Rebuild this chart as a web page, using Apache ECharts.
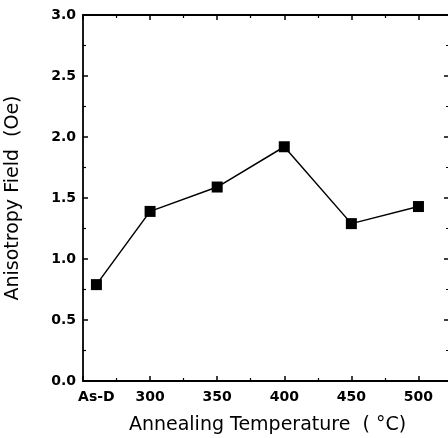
<!DOCTYPE html>
<html>
<head>
<meta charset="utf-8">
<script src="https://cdn.jsdelivr.net/npm/echarts@6/dist/echarts.min.js"></script>
<style>
  html, body { margin: 0; padding: 0; background: #fff; }
  #chart { width: 448px; height: 438px; }
</style>
</head>
<body>
<div id="chart"></div>
<script>
// data
var tempValues = [260, 300, 350, 400, 450, 500];
var tempLabels = ['As-D', '300', '350', '400', '450', '500'];
var anisotropy = [0.79, 1.39, 1.59, 1.92, 1.29, 1.43];

var chart = echarts.init(document.getElementById('chart'));

var points = tempValues.map(function (t, i) { return [t, anisotropy[i]]; });

var axisLine = { show: true, onZero: false, lineStyle: { color: '#000', width: 1.8 } };
var tick = { show: true, inside: true, length: 5, lineStyle: { color: '#000', width: 1.5 } };
var minor = { show: true, splitNumber: 2, length: 3, lineStyle: { color: '#000', width: 1.2 } };
var tickFont = { color: '#000', fontFamily: 'DejaVu Sans', fontWeight: 'bold', fontSize: 14 };

var option = {
    animation: false,
    backgroundColor: '#fff',
    // the right frame edge falls just outside the picture
    grid: { left: 83, top: 15, width: 369, height: 366, outerBoundsMode: 'none' },
    xAxis: [
        {
            type: 'value', min: 250, max: 525, interval: 50,
            position: 'bottom',
            name: 'Annealing Temperature  ( °C)',
            nameLocation: 'middle', nameGap: 35,
            nameTextStyle: { color: '#000', fontFamily: 'DejaVu Sans', fontSize: 19 },
            axisLine: axisLine, axisTick: tick, minorTick: minor,
            splitLine: { show: false },
            axisLabel: Object.assign({
                margin: 9,
                customValues: tempValues,
                formatter: function (v) {
                    var i = tempValues.indexOf(v);
                    return i >= 0 ? tempLabels[i] : '';
                }
            }, tickFont)
        },
        {
            type: 'value', min: 250, max: 525, interval: 50,
            position: 'top',
            axisLine: axisLine, axisTick: tick, minorTick: minor,
            splitLine: { show: false }, axisLabel: { show: false }
        }
    ],
    yAxis: [
        {
            type: 'value', min: 0, max: 3, interval: 0.5,
            position: 'left',
            name: 'Anisotropy Field  (Oe)',
            nameLocation: 'middle', nameGap: 60,
            nameTextStyle: { color: '#000', fontFamily: 'DejaVu Sans', fontSize: 19 },
            axisLine: axisLine, axisTick: tick, minorTick: minor,
            splitLine: { show: false },
            axisLabel: Object.assign({
                margin: 7,
                formatter: function (v) { return v.toFixed(1); }
            }, tickFont)
        },
        {
            type: 'value', min: 0, max: 3, interval: 0.5,
            position: 'right',
            axisLine: axisLine,
            axisTick: { show: true, inside: true, length: 8, lineStyle: { color: '#000', width: 1.5 } },
            minorTick: { show: true, splitNumber: 2, length: 6, lineStyle: { color: '#000', width: 1.2 } },
            splitLine: { show: false }, axisLabel: { show: false }
        }
    ],
    series: [
        {
            type: 'line',
            xAxisIndex: 0, yAxisIndex: 0,
            data: points,
            symbol: 'rect', symbolSize: 11,
            itemStyle: { color: '#000' },
            lineStyle: { color: '#000', width: 1.5 }
        }
    ]
};

chart.setOption(option);
</script>
</body>
</html>
